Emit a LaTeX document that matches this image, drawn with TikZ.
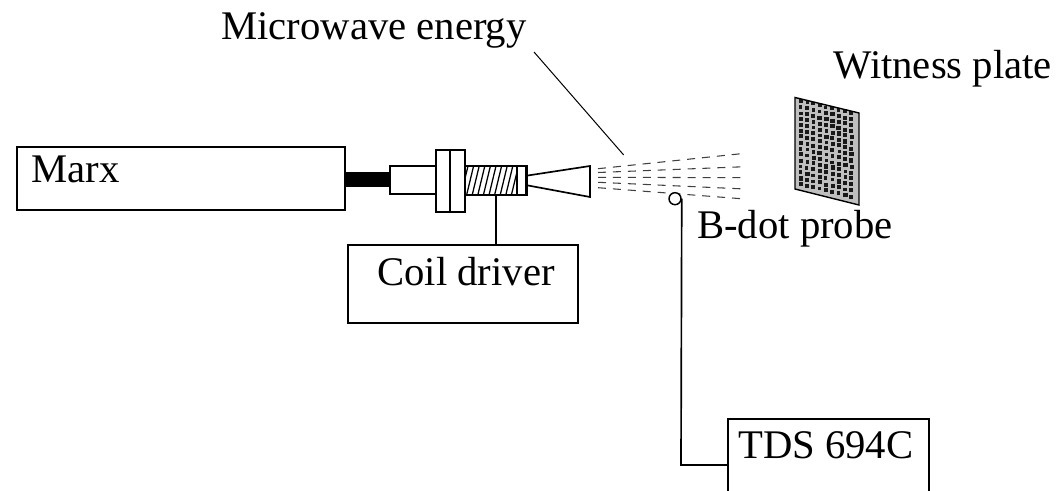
\documentclass[tikz,border=0pt]{standalone}
\usepackage{fontspec}
\setmainfont{Liberation Serif}
\tikzset{
  box/.style={draw=black,line width=1.2pt,fill=white,inner sep=0pt,rectangle},
  lbl/.style={anchor=base west,inner sep=0pt,font=\fontsize{30.5}{36}\selectfont,text=black},
  wire/.style={draw=black,line width=1.25pt},
  beam/.style={draw=black!75,line width=0.8pt,dash pattern=on 6pt off 5.2pt},
}
\begin{document}
\begin{tikzpicture}[x=0.75pt,y=-0.75pt]
\useasboundingbox (0,0) rectangle (1059,491);
\clip (0,0) rectangle (1059,491);
% boxes
\node[box,minimum width=246pt,minimum height=47.25pt] (marx) at (181,178.5) {};
\node[box,minimum width=172.5pt,minimum height=58.5pt] (driver) at (463,284) {};
\node[box,minimum width=150.75pt,minimum height=54.75pt] (tds) at (828.5,455.5) {};
% assembly
\node[box,minimum width=34.5pt,minimum height=21pt] (guide) at (413,180) {};
\node[box,minimum width=10.9pt,minimum height=46.5pt] (flangeA) at (443,181) {};
\node[box,minimum width=11.2pt,minimum height=46.5pt] (flangeB) at (457.5,181) {};
\node[box,minimum width=45.75pt,minimum height=21.4pt] (coil) at (495.5,180.5) {};
\begin{scope}
\clip (465,166.5) rectangle (517,194.5);
\foreach \i in {0,...,10}{
  \draw[line width=0.95pt] ({461+\i*5.6},195) -- ({468+\i*5.6},166);
}
\end{scope}
\draw[line width=1.1pt] (517,166.5) -- (517,194.5);
\draw[box] (coil.north east) -- (coil.south east);
\draw[line width=11.25pt] (guide.west) -- (guide.west -| marx.east);
\coordinate (hornTL) at (526.5,175.7);
\coordinate (hornTR) at (590,166);
\coordinate (hornBR) at (590,197);
\coordinate (hornBL) at (526.5,185.2);
\draw[wire,line join=miter] (hornTL) -- (hornTR) -- (hornBR) -- (hornBL);
\draw[wire,line width=1.5pt] (coil.south) -- (coil.south |- driver.north);
% beam
\foreach \ya/\yb in {168.7/153.3,172.5/166.7,177.3/177.7,182.3/189,187.7/199}{
  \draw[beam] (598,\ya) -- (745,\yb);
}
% leader
\coordinate (leadA) at (534,52);
\coordinate (leadB) at (623.7,155);
\draw[line width=0.75pt] (leadA) -- (leadB);
% plate
\coordinate (plTL) at (795,97.5);
\coordinate (plTR) at (859,113);
\coordinate (plBR) at (859,205);
\coordinate (plBL) at (795,189);
\fill[black!25] (plTL) -- (plTR) -- (plBR) -- (plBL) -- cycle;
\pgfmathsetseed{7}
\foreach \c in {0,...,8}{
  \foreach \r in {0,...,14}{
    \pgfmathsetmacro{\px}{800.7+\c*6.35+0.5*rand}
    \pgfmathsetmacro{\py}{101+\c*1.5+\r*5.95+0.5*rand}
    \pgfmathsetmacro{\ps}{1.9+0.3*rand}
    \fill[black!90] ({\px-\ps},{\py-\ps}) rectangle ({\px+\ps},{\py+\ps});
  }
}
\draw[line width=1.05pt,line join=miter] (plTL) -- (plTR) -- (plBR) -- (plBL) -- cycle;
% probe
\node[draw=black,line width=1.1pt,circle,minimum size=9pt,inner sep=0pt,fill=white] (probe) at (675,198.7) {};
\coordinate (bend) at (681,465);
\draw[wire] (probe.east) -- (bend) -- (bend -| tds.west);
% labels
\node[lbl] (tmarx) at (31,183) {Marx};
\node[lbl] (tdriver) at (377,286) {Coil driver};
\node[lbl] (ttds) at (738,458) {TDS 694C};
\node[lbl] (tprobe) at (697,239) {B-dot probe};
\node[lbl] (tmw) at (221,40) {Microwave energy};
\node[lbl] (twit) at (833,79) {Witness plate};
\end{tikzpicture}
\end{document}
